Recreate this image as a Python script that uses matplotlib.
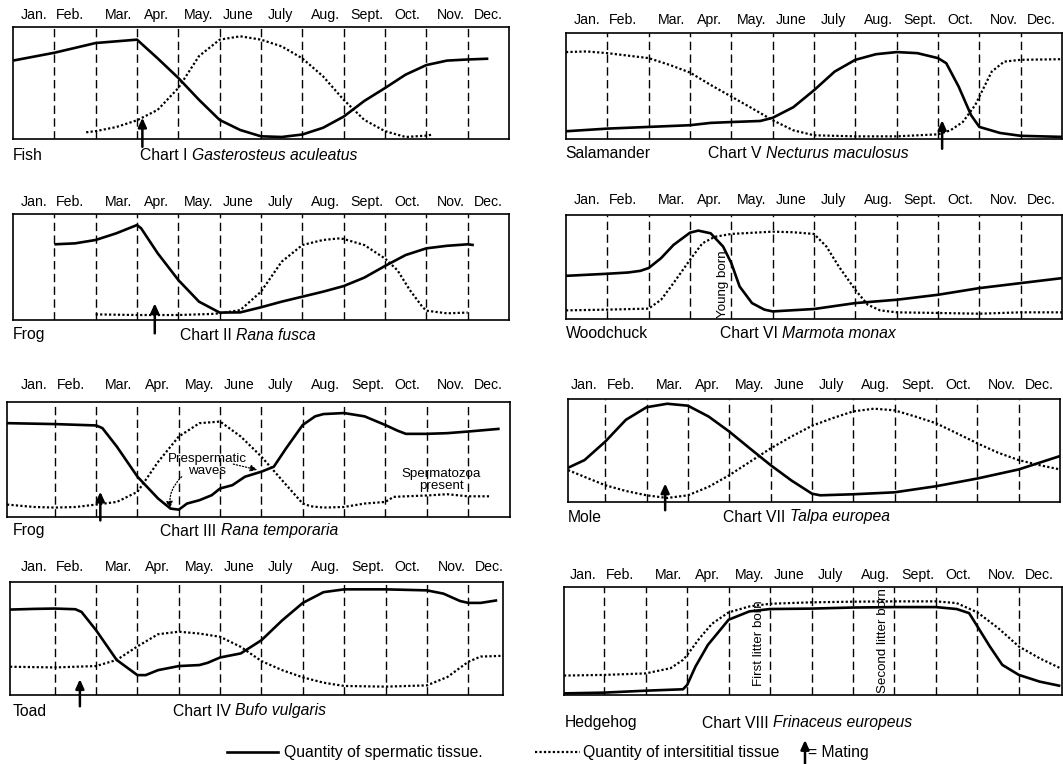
import matplotlib
matplotlib.use("Agg")
import matplotlib.pyplot as plt
from matplotlib.lines import Line2D
from matplotlib.transforms import blended_transform_factory

plt.rcParams['font.family'] = ['Liberation Sans', 'DejaVu Sans']

months = ["Jan.", "Feb.", "Mar.", "Apr.", "May.", "June", "July",
          "Aug.", "Sept.", "Oct.", "Nov.", "Dec."]
month_pos = [0.5, 1.38, 2.55, 3.48, 4.5, 5.45, 6.46, 7.55, 8.57, 9.53, 10.6, 11.5]

# --- data: x in months (0 = start of Jan.), y = fraction of panel height ---
# Chart I  Gasterosteus aculeatus
c1_sx = [0, 1, 2, 3, 3.5, 4, 4.5, 5, 5.5, 6, 6.5, 7, 7.5, 8, 8.5, 9, 9.5, 10, 10.5, 11, 11.5]
c1_sy = [0.70, 0.77, 0.857, 0.887, 0.72, 0.545, 0.35, 0.17, 0.08, 0.024, 0.018, 0.04,
         0.10, 0.20, 0.34, 0.455, 0.575, 0.66, 0.70, 0.71, 0.717]
c1_dx = [1.77, 2, 2.5, 3, 3.5, 4, 4.5, 5, 5.5, 6, 6.5, 7, 7.5, 8, 8.5, 9, 9.5, 10, 10.15]
c1_dy = [0.06, 0.07, 0.107, 0.167, 0.26, 0.455, 0.74, 0.887, 0.917, 0.887, 0.827, 0.72,
         0.56, 0.35, 0.17, 0.07, 0.018, 0.03, 0.04]

# Chart II  Rana fusca
c2_sx = [1, 1.5, 2, 2.5, 3, 3.1, 3.5, 4, 4.5, 5, 5.5, 6, 6.5, 7, 7.5, 8, 8.5, 9, 9.5,
         10, 10.5, 11, 11.15]
c2_sy = [0.714, 0.723, 0.755, 0.818, 0.896, 0.865, 0.63, 0.377, 0.173, 0.07, 0.072, 0.12,
         0.173, 0.22, 0.267, 0.32, 0.40, 0.51, 0.613, 0.676, 0.70, 0.714, 0.707]
c2_dx = [2, 3, 4, 4.8, 5, 5.5, 6, 6.5, 7, 7.5, 7.9, 8, 8.5, 9, 9.3, 9.6, 9.9, 10, 10.5, 11]
c2_dy = [0.053, 0.047, 0.047, 0.057, 0.063, 0.094, 0.267, 0.55, 0.707, 0.755, 0.77, 0.764,
         0.707, 0.58, 0.47, 0.283, 0.126, 0.088, 0.063, 0.07]

# Chart III  Rana temporaria
c3_sx = [-0.16, 1, 2, 2.15, 2.5, 3, 3.5, 3.8, 4, 4.2, 4.5, 4.8, 5, 5.3, 5.6, 6, 6.3, 6.6,
         7, 7.3, 7.5, 8, 8.5, 9, 9.3, 9.5, 10, 10.5, 11, 11.77]
c3_sy = [0.816, 0.808, 0.796, 0.773, 0.612, 0.35, 0.16, 0.073, 0.064, 0.117, 0.146, 0.19,
         0.248, 0.277, 0.35, 0.394, 0.437, 0.598, 0.80, 0.875, 0.895, 0.904, 0.875, 0.80,
         0.75, 0.723, 0.723, 0.729, 0.743, 0.767]
c3_dx = [-0.16, 0.5, 1, 1.5, 2, 2.5, 3, 3.5, 4, 4.5, 5, 5.5, 6, 6.5, 7, 7.2, 7.5, 8, 8.5,
         9, 9.2, 9.5, 10, 10.5, 11, 11.53]
c3_dy = [0.108, 0.087, 0.082, 0.087, 0.108, 0.131, 0.219, 0.48, 0.70, 0.816, 0.83, 0.70,
         0.525, 0.32, 0.117, 0.093, 0.082, 0.087, 0.117, 0.131, 0.175, 0.18, 0.187, 0.198,
         0.18, 0.18]

# Chart IV  Bufo vulgaris
c4_sx = [-0.08, 0.5, 1, 1.5, 1.65, 2, 2.5, 3, 3.2, 3.5, 4, 4.5, 4.7, 5, 5.5, 6, 6.5, 7,
         7.5, 8, 9, 10, 10.4, 10.8, 11, 11.3, 11.7]
c4_sy = [0.756, 0.762, 0.765, 0.759, 0.735, 0.574, 0.31, 0.176, 0.176, 0.22, 0.256, 0.265,
         0.285, 0.332, 0.368, 0.485, 0.66, 0.815, 0.91, 0.935, 0.935, 0.926, 0.897, 0.832,
         0.815, 0.815, 0.838]
c4_dx = [-0.08, 1, 2, 2.5, 3, 3.5, 4, 4.5, 5, 5.5, 6, 6.5, 7, 7.5, 8, 9, 10, 10.5, 11,
         11.3, 11.84]
c4_dy = [0.25, 0.244, 0.256, 0.31, 0.43, 0.538, 0.56, 0.544, 0.515, 0.426, 0.30, 0.22,
         0.156, 0.109, 0.08, 0.074, 0.085, 0.16, 0.294, 0.34, 0.347]

# Chart V  Necturus maculosus
c5_sx = [0, 1, 2, 3, 3.5, 4, 4.7, 5, 5.5, 6, 6.5, 7, 7.5, 8, 8.5, 9, 9.2, 9.5, 9.8, 10,
         10.5, 11, 12]
c5_sy = [0.073, 0.098, 0.114, 0.13, 0.152, 0.16, 0.17, 0.20, 0.30, 0.46, 0.636, 0.747,
         0.80, 0.82, 0.81, 0.763, 0.715, 0.494, 0.225, 0.114, 0.057, 0.03, 0.02]
c5_dx = [0, 0.5, 1, 2, 2.5, 3, 3.5, 4, 4.5, 5, 5.5, 6, 7, 8, 9, 9.3, 9.6, 9.9, 10, 10.3,
         10.6, 11, 12]
c5_dy = [0.82, 0.826, 0.81, 0.763, 0.70, 0.627, 0.51, 0.40, 0.29, 0.177, 0.082, 0.035,
         0.025, 0.025, 0.044, 0.082, 0.16, 0.32, 0.40, 0.636, 0.73, 0.747, 0.753]

# Chart VI  Marmota monax
c6_sx = [0, 1, 1.5, 1.8, 2, 2.3, 2.6, 3, 3.2, 3.5, 3.8, 4, 4.2, 4.5, 4.8, 5, 6, 7, 8, 9,
         10, 11, 12]
c6_sy = [0.415, 0.435, 0.447, 0.463, 0.49, 0.585, 0.712, 0.83, 0.85, 0.824, 0.697, 0.537,
         0.313, 0.153, 0.09, 0.073, 0.096, 0.153, 0.185, 0.233, 0.297, 0.345, 0.393]
c6_dx = [0, 1, 2, 2.3, 2.6, 3, 3.3, 3.6, 4, 5, 5.5, 6, 6.3, 6.6, 7, 7.3, 7.6, 8, 9, 10,
         11, 12]
c6_dy = [0.083, 0.09, 0.10, 0.185, 0.345, 0.569, 0.728, 0.79, 0.818, 0.84, 0.834, 0.818,
         0.697, 0.505, 0.28, 0.137, 0.083, 0.064, 0.058, 0.051, 0.064, 0.064]

# Chart VII  Talpa europea
c7_sx = [0.1, 0.5, 1, 1.5, 2, 2.5, 3, 3.5, 4, 4.5, 5, 5.5, 6, 6.2, 7, 8, 9, 10, 11, 12]
c7_sy = [0.332, 0.407, 0.586, 0.798, 0.92, 0.954, 0.935, 0.83, 0.684, 0.52, 0.358, 0.21,
         0.081, 0.065, 0.075, 0.094, 0.153, 0.228, 0.316, 0.446]
c7_dx = [0.1, 0.5, 1, 1.5, 2, 2.5, 3, 3.5, 4, 4.5, 5, 5.5, 6, 6.5, 7, 7.5, 8, 8.5, 9,
         9.5, 10, 10.5, 11, 11.5, 12]
c7_dy = [0.31, 0.244, 0.163, 0.107, 0.065, 0.039, 0.065, 0.147, 0.26, 0.39, 0.52, 0.635,
         0.74, 0.814, 0.88, 0.906, 0.89, 0.83, 0.765, 0.668, 0.57, 0.479, 0.407, 0.358, 0.316]

# Chart VIII  Frinaceus europeus
c8_sx = [0.03, 1, 2, 2.9, 3, 3.2, 3.5, 4, 4.5, 5, 6, 7, 8, 9, 9.5, 9.8, 10, 10.3, 10.6,
         11, 11.5, 12]
c8_sy = [0.015, 0.022, 0.04, 0.053, 0.093, 0.263, 0.464, 0.697, 0.774, 0.796, 0.80, 0.81,
         0.814, 0.814, 0.796, 0.758, 0.635, 0.449, 0.279, 0.186, 0.124, 0.084]
c8_dx = [0.03, 1, 2, 2.6, 2.9, 3, 3.3, 3.6, 4, 4.5, 5, 6, 7, 8, 9, 9.5, 10, 10.5, 11,
         11.5, 12]
c8_dy = [0.18, 0.186, 0.20, 0.248, 0.325, 0.37, 0.526, 0.66, 0.765, 0.82, 0.845, 0.858,
         0.864, 0.867, 0.867, 0.851, 0.765, 0.62, 0.449, 0.34, 0.248]

animals = ["Fish", "Frog", "Frog", "Toad", "Salamander", "Woodchuck", "Mole", "Hedgehog"]
chart_nums = ["I", "II", "III", "IV", "V", "VI", "VII", "VIII"]
species = ["Gasterosteus aculeatus", "Rana fusca", "Rana temporaria", "Bufo vulgaris",
           "Necturus maculosus", "Marmota monax", "Talpa europea", "Frinaceus europeus"]
# mating arrows: chart index -> (month, tip, tail)
mating = {0: (3.13, 0.19, -0.07), 1: (3.43, 0.157, -0.126), 2: (2.1, 0.22, -0.03),
          3: (1.61, 0.14, -0.10), 4: (9.1, 0.177, -0.092), 6: (2.45, 0.18, -0.08)}

series = [(c1_sx, c1_sy, c1_dx, c1_dy), (c2_sx, c2_sy, c2_dx, c2_dy),
          (c3_sx, c3_sy, c3_dx, c3_dy), (c4_sx, c4_sy, c4_dx, c4_dy),
          (c5_sx, c5_sy, c5_dx, c5_dy), (c6_sx, c6_sy, c6_dx, c6_dy),
          (c7_sx, c7_sy, c7_dx, c7_dy), (c8_sx, c8_sy, c8_dx, c8_dy)]

# layout in pixels: (left, right, top, bottom, xmin, xmax, month-label y, caption y, animal x, chart x)
W, H = 1063, 764
layout = [
    (13, 509, 27, 139, 0, 12, 15, 155, 13, 140),
    (13, 509, 214, 320, 0, 12, 202, 335, 13, 180),
    (7, 510, 402, 517, -0.16, 12.02, 385, 531, 13, 160),
    (10, 503, 582, 695, -0.08, 11.84, 567, 711, 13, 173),
    (566, 1062, 33, 139, 0, 12, 20, 153, 565, 708),
    (566, 1062, 215, 319, 0, 12, 200, 334, 566, 720),
    (568, 1060, 399, 502, 0.1, 12.0, 385, 517, 568, 723),
    (564, 1062, 587, 695, 0.03, 12.04, 575, 723, 565, 702),
]

FS_M = 10.2   # month labels
FS_C = 11.3   # captions and legend
FS_N = 9.6    # notes inside panels

fig = plt.figure(figsize=(W / 100, H / 100), dpi=100)
ov = fig.add_axes([0, 0, 1, 1])
ov.set_xlim(0, W)
ov.set_ylim(H, 0)
ov.axis('off')

axes = []
for i, (l, r, t, b, x0, x1, my, cy, axx, chx) in enumerate(layout):
    ax = fig.add_axes([l / W, 1 - b / H, (r - l) / W, (b - t) / H])
    ax.set_xlim(x0, x1)
    ax.set_ylim(0, 1)
    ax.set_xticks([])
    ax.set_yticks([])
    for s in ax.spines.values():
        s.set_linewidth(1.2)
    for m in range(1, 12):
        ax.axvline(m, color='black', lw=1.0, linestyle=(0, (6, 3.2)), zorder=1)
    sx, sy, dx, dy = series[i]
    ax.plot(sx, sy, color='black', lw=1.9, solid_capstyle='butt', zorder=3)
    ax.plot(dx, dy, color='black', lw=1.6, linestyle=(0, (1, 1)), zorder=3)
    tr = blended_transform_factory(ax.transData, ov.transData)
    for name, mp in zip(months, month_pos):
        ax.text(mp, my, name, transform=tr, ha='center', va='center', fontsize=FS_M)
    ov.text(axx, cy, animals[i], ha='left', va='center', fontsize=FS_C)
    t1 = ov.text(chx, cy, "Chart " + chart_nums[i], ha='left', va='center', fontsize=FS_C)
    ov.annotate(species[i], xy=(1, 0.5), xycoords=t1, xytext=(3.2, 0),
                textcoords='offset points', ha='left', va='center', fontsize=FS_C,
                style='italic')
    if i in mating:
        mx, tip, tail = mating[i]
        ax.annotate('', xy=(mx, tip), xytext=(mx, tail), annotation_clip=False,
                    arrowprops=dict(arrowstyle='-|>,head_length=0.55,head_width=0.25',
                                    color='black', lw=1.8, shrinkA=0, shrinkB=0))
    axes.append(ax)

# notes in chart III
a3 = axes[2]
a3.text(4.68, 0.45, "Prespermatic\nwaves", ha='center', va='center', fontsize=FS_N,
        linespacing=1.0, zorder=2)
a3.annotate('', xy=(3.79, 0.075), xytext=(4.07, 0.35),
            arrowprops=dict(arrowstyle='-|>,head_length=0.4,head_width=0.2', color='black',
                            lw=0.9, linestyle=(0, (1, 1.5)),
                            connectionstyle='arc3,rad=0.25', shrinkA=0, shrinkB=0))
a3.annotate('', xy=(5.9, 0.41), xytext=(5.32, 0.46),
            arrowprops=dict(arrowstyle='-|>,head_length=0.4,head_width=0.2', color='black',
                            lw=0.9, linestyle=(0, (1, 1.5)), shrinkA=0, shrinkB=0))
a3.text(10.36, 0.32, "Spermatozoa\npresent", ha='center', va='center', fontsize=FS_N,
        linespacing=1.0, zorder=2)

axes[5].text(3.79, 0.33, "Young born", rotation=90, ha='center', va='center',
             fontsize=FS_N, zorder=2)
axes[7].text(4.73, 0.48, "First litter born", rotation=90, ha='center', va='center',
             fontsize=FS_N, zorder=2)
axes[7].text(7.72, 0.50, "Second litter born", rotation=90, ha='center', va='center',
             fontsize=FS_N, zorder=2)

# bottom legend
ov.add_line(Line2D([227, 278], [752, 752], color='black', lw=1.9))
ov.text(284, 752, "Quantity of spermatic tissue.", ha='left', va='center', fontsize=FS_C)
ov.add_line(Line2D([535, 580], [752, 752], color='black', lw=1.6, linestyle=(0, (1, 1))))
ov.text(583, 752, "Quantity of intersititial tissue", ha='left', va='center', fontsize=FS_C)
ov.annotate('', xy=(805, 740), xytext=(805, 764), xycoords='data',
            arrowprops=dict(arrowstyle='-|>,head_length=0.55,head_width=0.25', color='black',
                            lw=1.8, shrinkA=0, shrinkB=0))
ov.text(808, 752, "= Mating", ha='left', va='center', fontsize=FS_C)

fig.savefig("out.png", dpi=100)
